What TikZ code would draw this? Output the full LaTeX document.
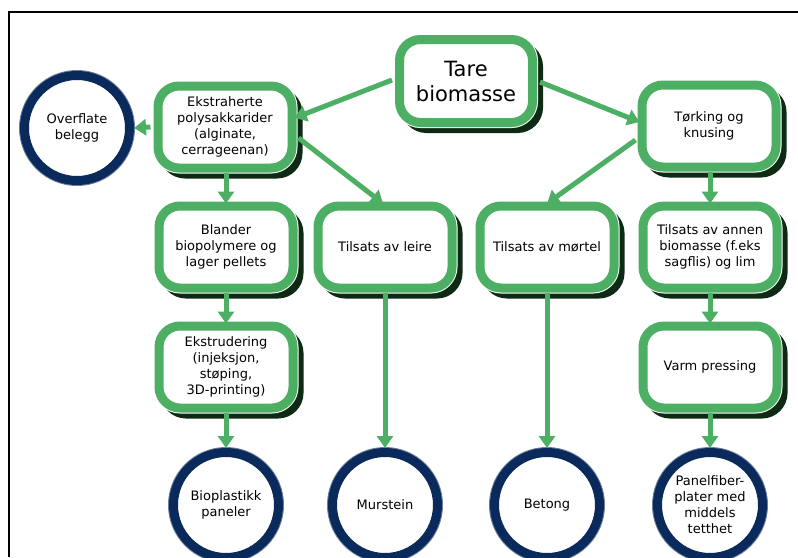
\documentclass[tikz,border=0pt]{standalone}
\usepackage{fontspec}
\setmainfont{DejaVu Sans}
\usetikzlibrary{arrows.meta,shadows,calc}
\definecolor{leafgreen}{RGB}{76,175,99}
\definecolor{shadegreen}{RGB}{14,42,20}
\definecolor{ringblue}{RGB}{11,42,92}

\begin{document}
\begin{tikzpicture}[x=1pt,y=-1pt,
  basebox/.style={rectangle, rounded corners=21pt, align=center,
    fill=white, draw=leafgreen, line width=9pt, inner sep=2pt,
    drop shadow={opacity=1, fill=shadegreen, draw=shadegreen, line width=9pt,
      shadow xshift=6pt, shadow yshift=-6pt},
    preaction={draw=white, line width=11pt}},
  stepbox/.style={basebox, minimum width=134pt, minimum height=82pt,
    font=\fontsize{13}{16}\selectfont},
  mainbox/.style={basebox, minimum width=133pt, minimum height=83pt,
    font=\fontsize{21}{25}\selectfont},
  endring/.style={circle, minimum size=105pt, inner sep=0pt, align=center,
    fill=white, draw=ringblue, line width=9pt,
    font=\fontsize{13}{16}\selectfont,
    preaction={draw=ringblue!60, line width=11pt}},
  flow/.style={draw=leafgreen, line width=5pt,
    -{Triangle[width=16pt,length=12pt]}}
]
\useasboundingbox (0,0) rectangle (798,557);

% frame lines along the top and left
\draw[line width=2.5pt] (9,557) -- (9,12) -- (798,12);

% process boxes
\node[mainbox] (tare) at (466,81) {Tare\\biomasse};
\node[stepbox] (ekstr) at (225,127) {Ekstraherte\\polysakkarider\\(alginate,\\cerrageenan)};
\node[stepbox] (torking) at (709,126) {Tørking og\\knusing};
\node[stepbox] (blander) at (226,247) {Blander\\biopolymere og\\lager pellets};
\node[stepbox] (leire) at (385,247) {Tilsats av leire};
\node[stepbox] (mortel) at (547,247) {Tilsats av mørtel};
\node[stepbox] (annen) at (710,247) {Tilsats av annen\\biomasse (f.eks\\sagflis) og lim};
\node[stepbox] (ekstrud) at (226,367) {Ekstrudering\\(injeksjon,\\støping,\\3D-printing)};
\node[stepbox] (varm) at (710,367) {Varm pressing};

% products
\node[endring] (overflate) at (77,128) {Overflate\\belegg};
\node[endring] (bioplast) at (226,505) {Bioplastikk\\paneler};
\node[endring] (murstein) at (385,505) {Murstein};
\node[endring] (betong) at (547,505) {Betong};
\node[endring] (panel) at (710,505) {Panelfiber-\\plater med\\middels\\tetthet};

% connectors
\draw[flow] ($(tare.west)+(-3,-1)$) -- ($(ekstr.east)+(-2,-9)$);
\draw[flow] ($(tare.east)+(3,1)$) -- ($(torking.west)+(2,-4)$);
\draw[flow] ($(ekstr.west)+(-3,0)$) -- (overflate.east);
\draw[flow] ($(ekstr.east)+(2,11)$) -- ($(leire.north)+(-2,2)$);
\draw[flow] ($(torking.west)+(-2,14)$) -- ($(mortel.north)+(0,2)$);
\draw[flow] (blander.north |- ekstr.south) -- ($(blander.north)+(0,2)$);
\draw[flow] (annen.north |- torking.south) -- ($(annen.north)+(0,2)$);
\draw[flow] (blander.south) -- ($(ekstrud.north)+(0,2)$);
\draw[flow] (annen.south) -- ($(varm.north)+(0,2)$);
\draw[flow] (ekstrud.south) -- (bioplast.north);
\draw[flow] (leire.south) -- (murstein.north);
\draw[flow] (mortel.south) -- (betong.north);
\draw[flow] (varm.south) -- (panel.north);
\end{tikzpicture}
\end{document}
